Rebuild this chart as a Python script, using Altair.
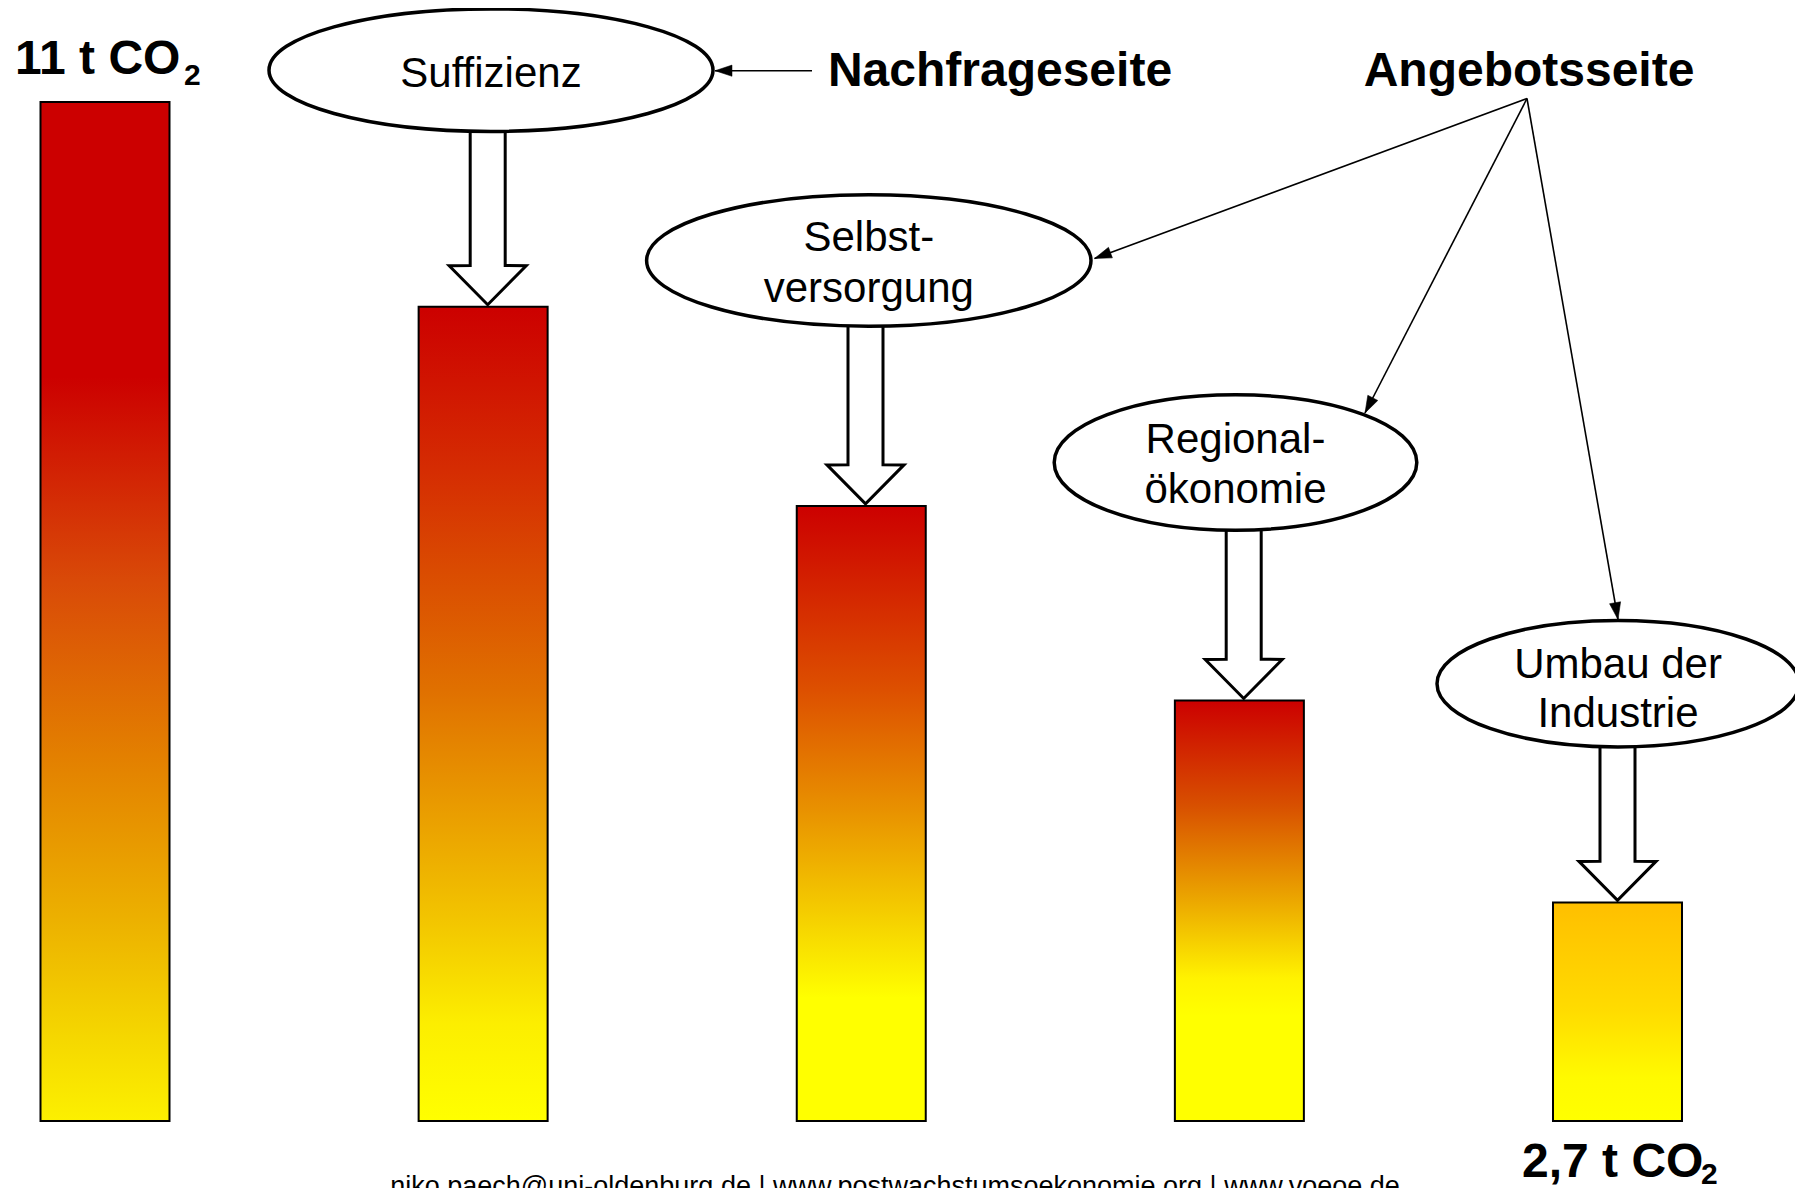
import math
import altair as alt
import pandas as pd

# ---------------- data ----------------
bar_pos = [1, 2, 3, 4, 5]
bar_names = ["Ausgangslage", "Suffizienz", "Selbstversorgung", "Regionalökonomie", "Umbau der Industrie"]
bar_height = [11.0, 8.79, 6.64, 4.54, 2.36]   # drawn bar heights (units of the 11 t bar)
start_label = ["11 t CO", "2"]
end_label = ["2,7 t CO", "2"]
ellipse_text = [["Suffizienz"], ["Selbst-", "versorgung"], ["Regional-", "ökonomie"], ["Umbau der", "Industrie"]]
side_text = ["Nachfrageseite", "Angebotsseite"]
footer_text = "niko.paech@uni-oldenburg.de | www.postwachstumsoekonomie.org | www.voeoe.de"

# ---------------- layout / style ----------------
FONT = "Liberation Sans"
W, H = 1787, 1180
MARGIN = 8
SLOT_PX = 378.125
SLOT1_PX = 105
UNIT_PX = 1019 / 11
BASE_PX = 1121


def ux(px):
    return 1 + (px - SLOT1_PX) / SLOT_PX


def uy(py):
    return (BASE_PX - py) / UNIT_PX


xs = alt.Scale(domain=[ux(MARGIN), ux(MARGIN + W)], nice=False, zero=False)
ys = alt.Scale(domain=[uy(MARGIN + H), uy(MARGIN)], nice=False, zero=False)


def X(f, **kw):
    return alt.X(f"{f}:Q", scale=xs, axis=None, **kw)


def Y(f, **kw):
    return alt.Y(f"{f}:Q", scale=ys, axis=None, **kw)


grad_stops = [
    [(0, "#CC0000"), (0.27, "#CC0000"), (0.47, "#D94A08"), (0.64, "#E37F00"), (0.80, "#ECB000"), (0.92, "#F5D800"), (1, "#FCF000")],
    [(0, "#CC0000"), (0.2, "#D52C02"), (0.47, "#E07000"), (0.75, "#F2C400"), (0.88, "#FCEE00"), (1, "#FFFF00")],
    [(0, "#CC0000"), (0.3, "#DD5000"), (0.49, "#E89000"), (0.67, "#F5D000"), (0.8, "#FFFF00"), (1, "#FFFF00")],
    [(0, "#CC0000"), (0.25, "#D85000"), (0.47, "#EBA500"), (0.66, "#FFF200"), (0.75, "#FFFF00"), (1, "#FFFF00")],
    [(0, "#FFBF00"), (0.5, "#FFDC00"), (0.8, "#FFFA00"), (1, "#FFFF00")],
]


def grad(i):
    return {"gradient": "linear", "x1": 0, "y1": 0, "x2": 0, "y2": 1,
            "stops": [{"offset": o, "color": c} for o, c in grad_stops[i]]}


# bars
HALF_BAR = 64.5 / SLOT_PX
bars = pd.DataFrame({"pos": bar_pos, "name": bar_names, "v": bar_height})
bars["lo"] = bars["pos"] - HALF_BAR
bars["hi"] = bars["pos"] + HALF_BAR
bars["zero"] = 0.0

layers = []
layers.append(
    alt.Chart(bars).mark_bar(color="#8c8c8c", xOffset=1.5, yOffset=2.5)
    .encode(x=X("lo"), x2="hi", y=Y("v"), y2="zero")
)
for i, p in enumerate(bar_pos):
    layers.append(
        alt.Chart(bars).transform_filter(alt.datum.pos == p)
        .mark_bar(fill=grad(i), stroke="black", strokeWidth=2)
        .encode(x=X("lo"), x2="hi", y=Y("v"), y2="zero")
    )

# ellipses (page px: centre x, centre y, rx, ry)
ell = [(491, 70.2, 222, 61.3), (868.8, 260.5, 222.2, 65.7), (1235.5, 462.5, 181.3, 67.7), (1618, 683.7, 181, 63.2)]
arrow_cx = [487.7, 865.5, 1243.7, 1617.5]
SHAFT, HEAD, HEAD_LEN = 17.5, 38.5, 39

rows = []
for k in range(4):
    tip = bar_height[k + 1] + 2 / UNIT_PX
    ht = tip + HEAD_LEN / UNIT_PX
    c = ux(arrow_cx[k])
    s = SHAFT / SLOT_PX
    h = HEAD / SLOT_PX
    top = uy(ell[k][1])
    rows += [dict(a=k, y=tip, l=c, r=c), dict(a=k, y=ht, l=c - h, r=c + h),
             dict(a=k, y=ht + 0.002, l=c - s, r=c + s), dict(a=k, y=top, l=c - s, r=c + s)]
arrows = pd.DataFrame(rows)
layers.append(
    alt.Chart(arrows).mark_area(orient="horizontal", fill="white", stroke="black", strokeWidth=3,
                                strokeJoin="miter", opacity=1)
    .encode(y=Y("y"), x=X("l", stack=None), x2="r", detail="a:N")
)

K = 0.5523


def ellipse_path(b):
    return (f"M-1,0C-1,{-K*b:.4f},{-K:.4f},{-b:.4f},0,{-b:.4f}"
            f"C{K:.4f},{-b:.4f},1,{-K*b:.4f},1,0"
            f"C1,{K*b:.4f},{K:.4f},{b:.4f},0,{b:.4f}"
            f"C{-K:.4f},{b:.4f},-1,{K*b:.4f},-1,0Z")


ells = pd.DataFrame([dict(x=ux(cx), y=uy(cy), path=ellipse_path(ry / rx), size=(2 * rx) ** 2)
                     for cx, cy, rx, ry in ell])
layers.append(
    alt.Chart(ells).mark_point(filled=True, fill="white", stroke="black", strokeWidth=3.5, opacity=1)
    .encode(x=X("x"), y=Y("y"), shape=alt.Shape("path:N", scale=None), size=alt.Size("size:Q", scale=None))
)

# thin arrows (page px)
thin = [((812, 70.7), (715, 70.7)), ((1527, 98.5), (1094.5, 258.5)),
        ((1527, 98.5), (1365, 413)), ((1527, 98.5), (1618, 619.5))]
lines = pd.DataFrame([dict(x=ux(a[0]), y=uy(a[1]), x2=ux(b[0]), y2=uy(b[1])) for a, b in thin])
heads = pd.DataFrame([dict(x=ux(b[0]), y=uy(b[1]),
                           ang=(math.degrees(math.atan2(b[0] - a[0], -(b[1] - a[1]))) + 360) % 360)
                      for a, b in thin])
layers.append(
    alt.Chart(lines).mark_rule(stroke="black", strokeWidth=1.6)
    .encode(x=X("x"), y=Y("y"), x2="x2", y2="y2")
)
layers.append(
    alt.Chart(heads).mark_point(shape="M0,0L-0.33,1L0.33,1Z", size=1156, filled=True, fill="black",
                                stroke="black", strokeWidth=0.5, opacity=1)
    .encode(x=X("x"), y=Y("y"), angle=alt.Angle("ang:Q", scale=None))
)

# texts
reg_rows = []
ell_base = [[87], [251, 301.5], [452.7, 503], [678, 726.5]]
for k, lines_k in enumerate(ellipse_text):
    for t, b in zip(lines_k, ell_base[k]):
        reg_rows.append(dict(t=t, x=ux(ell[k][0]), y=uy(b), fs=42))
reg_rows.append(dict(t=footer_text, x=ux(895), y=uy(1194.5), fs=27))
reg = pd.DataFrame(reg_rows)
layers.append(
    alt.Chart(reg).mark_text(font=FONT, align="center", baseline="alphabetic", color="black")
    .encode(x=X("x"), y=Y("y"), text="t:N", size=alt.Size("fs:Q", scale=None))
)

bold_c = pd.DataFrame([dict(t=side_text[0], x=ux(1000), y=uy(86), fs=48),
                       dict(t=side_text[1], x=ux(1529), y=uy(86), fs=48)])
layers.append(
    alt.Chart(bold_c).mark_text(font=FONT, fontWeight="bold", align="center", baseline="alphabetic", color="black")
    .encode(x=X("x"), y=Y("y"), text="t:N", size=alt.Size("fs:Q", scale=None))
)

bold_l = pd.DataFrame([dict(t=start_label[0], x=ux(15), y=uy(74), fs=48),
                       dict(t=start_label[1], x=ux(184), y=uy(85), fs=30),
                       dict(t=end_label[0], x=ux(1522), y=uy(1177), fs=48),
                       dict(t=end_label[1], x=ux(1701), y=uy(1183.5), fs=30)])
layers.append(
    alt.Chart(bold_l).mark_text(font=FONT, fontWeight="bold", align="left", baseline="alphabetic", color="black")
    .encode(x=X("x"), y=Y("y"), text="t:N", size=alt.Size("fs:Q", scale=None))
)

chart = (
    alt.layer(*layers)
    .properties(width=W, height=H, autosize="none",
                padding={"left": 0, "top": 0, "right": 0, "bottom": 0}, background="white")
    .configure_view(stroke=None)
)
chart.save("out.html", embed_options={"renderer": "svg", "actions": False})
